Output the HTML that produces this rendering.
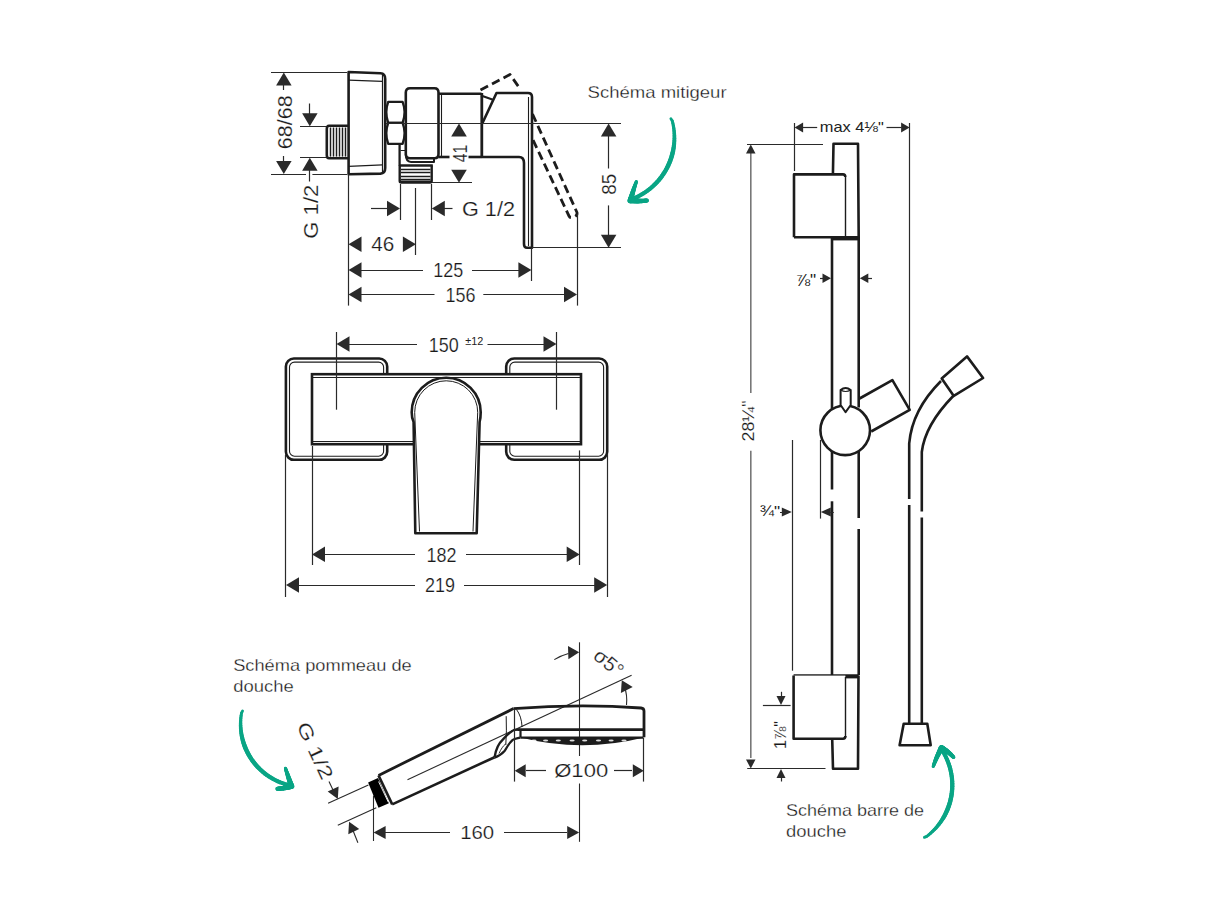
<!DOCTYPE html>
<html><head><meta charset="utf-8"><style>
html,body{margin:0;padding:0;background:#fff;}
svg{display:block;font-family:"Liberation Sans",sans-serif;}
</style></head><body>
<svg width="1218" height="914" viewBox="0 0 1218 914">
<rect width="1218" height="914" fill="#fff"/>
<line x1="271" y1="72.5" x2="347" y2="72.5" stroke="#2a2a2a" stroke-width="1.2" />
<line x1="271" y1="174.5" x2="306" y2="174.5" stroke="#2a2a2a" stroke-width="1.2" />
<line x1="312.4" y1="174.5" x2="347" y2="174.5" stroke="#2a2a2a" stroke-width="1.2" />
<polygon points="283.8,72.5 291.6,85.5 276.1,85.5" fill="#2a2a2a"/>
<line x1="283.5" y1="85" x2="283.5" y2="90" stroke="#2a2a2a" stroke-width="1.2" />
<g transform="translate(284.3 122.3) rotate(-90)"><text x="0" y="7.20" font-size="20" text-anchor="middle" fill="#1a1a1a" textLength="54" lengthAdjust="spacingAndGlyphs" stroke="#fff" stroke-width="0.2" paint-order="fill">68/68</text></g>
<line x1="283.5" y1="156" x2="283.5" y2="161" stroke="#2a2a2a" stroke-width="1.2" />
<polygon points="283.8,174.0 276.1,161.0 291.6,161.0" fill="#2a2a2a"/>
<line x1="300" y1="126.5" x2="347" y2="126.5" stroke="#2a2a2a" stroke-width="1.2" />
<line x1="300" y1="157.5" x2="347" y2="157.5" stroke="#2a2a2a" stroke-width="1.2" />
<line x1="309.5" y1="103.5" x2="309.5" y2="114" stroke="#2a2a2a" stroke-width="1.2" />
<polygon points="309.8,126.3 302.1,113.3 317.6,113.3" fill="#2a2a2a"/>
<polygon points="309.8,157.8 317.6,170.8 302.1,170.8" fill="#2a2a2a"/>
<line x1="309.5" y1="170" x2="309.5" y2="181.5" stroke="#2a2a2a" stroke-width="1.2" />
<g transform="translate(310.5 211.7) rotate(-90)"><text x="0" y="7.20" font-size="20" text-anchor="middle" fill="#1a1a1a" textLength="54" lengthAdjust="spacingAndGlyphs" stroke="#fff" stroke-width="0.2" paint-order="fill">G 1/2</text></g>
<path d="M348.6,72 L380.5,73.3 Q385.2,73.6 385.2,79 L385.2,168 Q385.2,173.4 380.5,173.6 L348.6,174.2 Z" stroke="#1c1c1c" stroke-width="2.6" fill="none" stroke-linejoin="round" />
<line x1="348.6" y1="80.1" x2="382.5" y2="81.4" stroke="#1c1c1c" stroke-width="1.2" />
<line x1="348.6" y1="166.4" x2="382.5" y2="164.8" stroke="#1c1c1c" stroke-width="1.2" />
<line x1="382.5" y1="74" x2="382.5" y2="172.5" stroke="#1c1c1c" stroke-width="1.2" />
<path d="M348,125.8 L329,125.8 Q326.8,125.8 326.8,129 L326.8,155 Q326.8,158.3 329,158.3 L348,158.3" stroke="#1c1c1c" stroke-width="2.6" fill="none" stroke-linejoin="round" />
<line x1="330.5" y1="127.5" x2="330.5" y2="156.6" stroke="#1c1c1c" stroke-width="1.5" />
<line x1="333.5" y1="127.5" x2="333.5" y2="156.6" stroke="#1c1c1c" stroke-width="1.5" />
<line x1="336.5" y1="127.5" x2="336.5" y2="156.6" stroke="#1c1c1c" stroke-width="1.5" />
<line x1="339.5" y1="127.5" x2="339.5" y2="156.6" stroke="#1c1c1c" stroke-width="1.5" />
<line x1="342.5" y1="127.5" x2="342.5" y2="156.6" stroke="#1c1c1c" stroke-width="1.5" />
<line x1="345.5" y1="127.5" x2="345.5" y2="156.6" stroke="#1c1c1c" stroke-width="1.5" />
<path d="M388.2,101.9 L402.6,101.9 Q406.6,112.3 402.6,122.8 L388.2,122.8 Q384.4,112.3 388.2,101.9 Z" stroke="#1c1c1c" stroke-width="2.3" fill="none" stroke-linejoin="round" />
<path d="M388.2,122.8 L402.6,122.8 Q406.6,133.3 402.6,143.8 L388.2,143.8 Q384.4,133.3 388.2,122.8 Z" stroke="#1c1c1c" stroke-width="2.3" fill="none" stroke-linejoin="round" />
<line x1="399.6" y1="144.5" x2="399.6" y2="166" stroke="#1c1c1c" stroke-width="2.3" />
<line x1="400.5" y1="150.5" x2="405" y2="150.5" stroke="#1c1c1c" stroke-width="1.0" />
<path d="M410,88.2 L434.5,88.2 Q438.5,88.2 438.5,92.5 L438.5,154 Q438.5,158.3 434.5,158.3 L410,158.3 Q405.8,158.3 405.8,154 L405.8,92.5 Q405.8,88.2 410,88.2 Z" stroke="#1c1c1c" stroke-width="2.6" fill="none" stroke-linejoin="round" />
<path d="M405.8,154 Q405.8,161.9 411,161.9 L434,161.9 L434,158.3" stroke="#1c1c1c" stroke-width="2.0" fill="none" stroke-linejoin="round" />
<path d="M399.7,165.5 L432.8,165.5" stroke="#1c1c1c" stroke-width="2.6" fill="none" stroke-linejoin="round" />
<path d="M399.7,165.5 L399.7,181 Q399.7,182.6 401.5,182.6 L430,182.6 Q431.7,182.6 431.7,181 L431.7,165.5" stroke="#1c1c1c" stroke-width="2.4" fill="none" stroke-linejoin="round" />
<line x1="399.7" y1="181.6" x2="431.7" y2="181.6" stroke="#1c1c1c" stroke-width="2.4" />
<line x1="401" y1="169.5" x2="430.5" y2="169.5" stroke="#1c1c1c" stroke-width="1.5" />
<line x1="401" y1="172.5" x2="430.5" y2="172.5" stroke="#1c1c1c" stroke-width="1.5" />
<line x1="401" y1="176.5" x2="430.5" y2="176.5" stroke="#1c1c1c" stroke-width="1.5" />
<line x1="401" y1="179.5" x2="430.5" y2="179.5" stroke="#1c1c1c" stroke-width="1.5" />
<path d="M438.5,93.7 L481.5,93.7" stroke="#1c1c1c" stroke-width="2.6" fill="none" stroke-linejoin="round" />
<path d="M438.5,157 L449.5,157" stroke="#1c1c1c" stroke-width="2.6" fill="none" stroke-linejoin="round" />
<path d="M468.5,157 L482,157" stroke="#1c1c1c" stroke-width="2.6" fill="none" stroke-linejoin="round" />
<line x1="441.5" y1="93.7" x2="441.5" y2="157" stroke="#1c1c1c" stroke-width="1.1" />
<line x1="481.8" y1="93" x2="481.8" y2="157" stroke="#1c1c1c" stroke-width="2.8" />
<path d="M482,157 L519,157 Q524,157 524,163 L524,244 Q524,247.8 527,247.8 L532,247.8 L532,97 Q532,93 528,93 L496.5,93 L482.5,123" stroke="#1c1c1c" stroke-width="2.6" fill="none" stroke-linejoin="round" />
<line x1="528.5" y1="97" x2="528.5" y2="246" stroke="#1c1c1c" stroke-width="1.1" />
<line x1="481" y1="95.5" x2="493" y2="99.8" stroke="#1c1c1c" stroke-width="2.0" />
<path d="M480.5,90 L510,74.5 L519.5,88" stroke="#1c1c1c" stroke-width="2.8" fill="none" stroke-linejoin="round" stroke-dasharray="8.5 4.5" stroke-linecap="butt"/>
<path d="M532.5,114 L577,212.5 Q577.5,215 575,216.5 L572,217.5 Q570,218 569,216 L533,140" stroke="#1c1c1c" stroke-width="2.8" fill="none" stroke-linejoin="round" stroke-dasharray="8.5 4.5" stroke-linecap="butt"/>
<line x1="386" y1="123.5" x2="621" y2="123.5" stroke="#2a2a2a" stroke-width="1.1" />
<polygon points="459.0,123.4 466.8,136.4 451.2,136.4" fill="#2a2a2a"/>
<g transform="translate(459.8 153.6) rotate(-90)"><text x="0" y="7.02" font-size="19.5" text-anchor="middle" fill="#1a1a1a" textLength="17.5" lengthAdjust="spacingAndGlyphs" stroke="#fff" stroke-width="0.2" paint-order="fill">41</text></g>
<polygon points="459.0,182.7 451.2,169.7 466.8,169.7" fill="#2a2a2a"/>
<line x1="432" y1="182.5" x2="472" y2="182.5" stroke="#2a2a2a" stroke-width="1.2" />
<line x1="400.5" y1="184" x2="400.5" y2="220" stroke="#2a2a2a" stroke-width="1.2" />
<line x1="431.5" y1="184" x2="431.5" y2="220" stroke="#2a2a2a" stroke-width="1.2" />
<line x1="371" y1="208.5" x2="388" y2="208.5" stroke="#2a2a2a" stroke-width="1.2" />
<polygon points="400.0,208.4 387.0,216.2 387.0,200.7" fill="#2a2a2a"/>
<polygon points="431.8,208.4 444.8,200.7 444.8,216.2" fill="#2a2a2a"/>
<line x1="444" y1="208.5" x2="452.5" y2="208.5" stroke="#2a2a2a" stroke-width="1.2" />
<g transform="translate(488.5 208.4) rotate(0)"><text x="0" y="7.20" font-size="20" text-anchor="middle" fill="#1a1a1a" textLength="53" lengthAdjust="spacingAndGlyphs" stroke="#fff" stroke-width="0.2" paint-order="fill">G 1/2</text></g>
<line x1="348.5" y1="174" x2="348.5" y2="305.6" stroke="#2a2a2a" stroke-width="1.2" />
<line x1="415.5" y1="188" x2="415.5" y2="255" stroke="#2a2a2a" stroke-width="1.2" />
<line x1="531.5" y1="248" x2="531.5" y2="281" stroke="#2a2a2a" stroke-width="1.2" />
<line x1="577.5" y1="214" x2="577.5" y2="305.6" stroke="#2a2a2a" stroke-width="1.2" />
<polygon points="348.5,244.2 361.5,236.4 361.5,251.9" fill="#2a2a2a"/>
<polygon points="415.9,244.2 402.9,251.9 402.9,236.4" fill="#2a2a2a"/>
<g transform="translate(382.8 244.2) rotate(0)"><text x="0" y="7.20" font-size="20" text-anchor="middle" fill="#1a1a1a" textLength="23" lengthAdjust="spacingAndGlyphs" stroke="#fff" stroke-width="0.2" paint-order="fill">46</text></g>
<polygon points="348.5,270.0 361.5,262.2 361.5,277.8" fill="#2a2a2a"/>
<line x1="360" y1="270.5" x2="423" y2="270.5" stroke="#2a2a2a" stroke-width="1.2" />
<g transform="translate(448.2 270) rotate(0)"><text x="0" y="7.20" font-size="20" text-anchor="middle" fill="#1a1a1a" textLength="30" lengthAdjust="spacingAndGlyphs" stroke="#fff" stroke-width="0.2" paint-order="fill">125</text></g>
<line x1="472" y1="270.5" x2="520" y2="270.5" stroke="#2a2a2a" stroke-width="1.2" />
<polygon points="531.4,270.0 518.4,277.8 518.4,262.2" fill="#2a2a2a"/>
<polygon points="348.5,294.5 361.5,286.8 361.5,302.2" fill="#2a2a2a"/>
<line x1="360" y1="294.5" x2="434.5" y2="294.5" stroke="#2a2a2a" stroke-width="1.2" />
<g transform="translate(460.4 294.5) rotate(0)"><text x="0" y="7.20" font-size="20" text-anchor="middle" fill="#1a1a1a" textLength="30" lengthAdjust="spacingAndGlyphs" stroke="#fff" stroke-width="0.2" paint-order="fill">156</text></g>
<line x1="483.3" y1="294.5" x2="565" y2="294.5" stroke="#2a2a2a" stroke-width="1.2" />
<polygon points="577.0,294.5 564.0,302.2 564.0,286.8" fill="#2a2a2a"/>
<line x1="532" y1="247.5" x2="621" y2="247.5" stroke="#2a2a2a" stroke-width="1.2" />
<polygon points="608.6,123.4 616.4,136.4 600.9,136.4" fill="#2a2a2a"/>
<line x1="608.5" y1="136" x2="608.5" y2="168.5" stroke="#2a2a2a" stroke-width="1.2" />
<g transform="translate(608.8 184.2) rotate(-90)"><text x="0" y="7.20" font-size="20" text-anchor="middle" fill="#1a1a1a" textLength="21" lengthAdjust="spacingAndGlyphs" stroke="#fff" stroke-width="0.2" paint-order="fill">85</text></g>
<line x1="608.5" y1="205.4" x2="608.5" y2="235" stroke="#2a2a2a" stroke-width="1.2" />
<polygon points="608.6,247.8 600.9,234.8 616.4,234.8" fill="#2a2a2a"/>
<rect x="285.9" y="358.5" width="101.30000000000001" height="101.30000000000001" rx="8" ry="8" stroke="#1c1c1c" stroke-width="2.6" fill="none"/>
<rect x="289.5" y="362.1" width="94.09999999999997" height="94.09999999999997" rx="5" ry="5" stroke="#1c1c1c" stroke-width="1.1" fill="none"/>
<rect x="506.2" y="358.5" width="101.00000000000006" height="101.30000000000001" rx="8" ry="8" stroke="#1c1c1c" stroke-width="2.6" fill="none"/>
<rect x="509.8" y="362.1" width="93.80000000000001" height="94.09999999999997" rx="5" ry="5" stroke="#1c1c1c" stroke-width="1.1" fill="none"/>
<rect x="312" y="374.2" width="269" height="70.0" rx="0" ry="0" stroke="#1c1c1c" stroke-width="2.6" fill="#fff"/>
<line x1="312" y1="377.5" x2="581" y2="377.5" stroke="#1c1c1c" stroke-width="1.1" />
<line x1="312" y1="441.5" x2="581" y2="441.5" stroke="#1c1c1c" stroke-width="1.1" />
<path d="M415.3,533.3 L413.6,422 Q411.7,418 411.7,412.3 A34.5,34.5 0 0 1 480.7,412.3 Q480.7,418 479.6,422 L476.7,533.3 Z" stroke="#1c1c1c" stroke-width="2.6" fill="#fff" stroke-linejoin="round" />
<path d="M419.5,531.5 L414.7,412.3 A31.5,31.5 0 0 1 477.7,412.3 L473,531.5" stroke="#1c1c1c" stroke-width="1.0" fill="none" stroke-linejoin="round" />
<line x1="336.5" y1="332" x2="336.5" y2="409.7" stroke="#2a2a2a" stroke-width="1.2" />
<line x1="556.5" y1="332" x2="556.5" y2="409.7" stroke="#2a2a2a" stroke-width="1.2" />
<polygon points="336.5,344.0 349.5,336.2 349.5,351.8" fill="#2a2a2a"/>
<line x1="349" y1="344.5" x2="417" y2="344.5" stroke="#2a2a2a" stroke-width="1.2" />
<g transform="translate(443.8 344.5) rotate(0)"><text x="0" y="7.20" font-size="20" text-anchor="middle" fill="#1a1a1a" textLength="30" lengthAdjust="spacingAndGlyphs" stroke="#fff" stroke-width="0.2" paint-order="fill">150</text></g>
<text x="474.2" y="344.5" font-size="11.5" text-anchor="middle" fill="#222" textLength="18" lengthAdjust="spacingAndGlyphs" >±12</text>
<line x1="487.5" y1="344.5" x2="544" y2="344.5" stroke="#2a2a2a" stroke-width="1.2" />
<polygon points="556.5,344.0 543.5,351.8 543.5,336.2" fill="#2a2a2a"/>
<line x1="312.5" y1="446" x2="312.5" y2="565" stroke="#2a2a2a" stroke-width="1.2" />
<line x1="579.5" y1="450.4" x2="579.5" y2="565" stroke="#2a2a2a" stroke-width="1.2" />
<polygon points="312.0,554.4 325.0,546.6 325.0,562.1" fill="#2a2a2a"/>
<line x1="324" y1="554.5" x2="415" y2="554.5" stroke="#2a2a2a" stroke-width="1.2" />
<g transform="translate(441.6 554.4) rotate(0)"><text x="0" y="7.20" font-size="20" text-anchor="middle" fill="#1a1a1a" textLength="30" lengthAdjust="spacingAndGlyphs" stroke="#fff" stroke-width="0.2" paint-order="fill">182</text></g>
<line x1="466" y1="554.5" x2="567" y2="554.5" stroke="#2a2a2a" stroke-width="1.2" />
<polygon points="579.7,554.4 566.7,562.1 566.7,546.6" fill="#2a2a2a"/>
<line x1="285.5" y1="455" x2="285.5" y2="597" stroke="#2a2a2a" stroke-width="1.2" />
<line x1="607.5" y1="454" x2="607.5" y2="597" stroke="#2a2a2a" stroke-width="1.2" />
<polygon points="286.0,585.0 299.0,577.2 299.0,592.8" fill="#2a2a2a"/>
<line x1="298" y1="585.5" x2="415" y2="585.5" stroke="#2a2a2a" stroke-width="1.2" />
<g transform="translate(440 585) rotate(0)"><text x="0" y="7.20" font-size="20" text-anchor="middle" fill="#1a1a1a" textLength="30" lengthAdjust="spacingAndGlyphs" stroke="#fff" stroke-width="0.2" paint-order="fill">219</text></g>
<line x1="464" y1="585.5" x2="595" y2="585.5" stroke="#2a2a2a" stroke-width="1.2" />
<polygon points="607.2,585.0 594.2,592.8 594.2,577.2" fill="#2a2a2a"/>
<line x1="407.5" y1="779.7" x2="631.6" y2="675.3" stroke="#2a2a2a" stroke-width="1.1" />
<line x1="579.5" y1="642.3" x2="579.5" y2="756" stroke="#2a2a2a" stroke-width="1.1" />
<line x1="579.5" y1="783.5" x2="579.5" y2="841.8" stroke="#2a2a2a" stroke-width="1.1" />
<path d="M378.5,775.4 L513.5,708.6" stroke="#1c1c1c" stroke-width="2.8" fill="none" stroke-linejoin="round" />
<path d="M392.2,804.4 L494.6,757.2" stroke="#1c1c1c" stroke-width="2.6" fill="none" stroke-linejoin="round" />
<path d="M494.6,757.2 C495.5,751 498,744 503,739.4 C507,735 511,731 514.4,729.9 L520,729.6" stroke="#1c1c1c" stroke-width="2.4" fill="none" stroke-linejoin="round" />
<path d="M494.6,757.6 C498,756.5 502,754 504.8,750.8 C507,747 509,743 512.7,739.8 C514.5,738.6 516,738.5 520,737.6" stroke="#1c1c1c" stroke-width="2.2" fill="none" stroke-linejoin="round" />
<path d="M499,753.5 C501,749 503,746 505.5,744" stroke="#1c1c1c" stroke-width="0.9" fill="none" stroke-linejoin="round" />
<path d="M506.2,716.2 Q506.8,731 505.8,745" stroke="#1c1c1c" stroke-width="1.0" fill="none" stroke-linejoin="round" />
<line x1="378.5" y1="775.4" x2="392.2" y2="804.4" stroke="#1c1c1c" stroke-width="2.6" />
<polygon points="368.1,782.5 378,778.1 388.9,803.3 378.5,807.7" fill="#000"/>
<line x1="378.6" y1="781.6" x2="388.3" y2="802.2" stroke="#fff" stroke-width="0.9" />
<path d="M513.5,708.6 Q580,703.5 641,708 Q644,708.3 644,711 L644,737.3" stroke="#1c1c1c" stroke-width="2.8" fill="none" stroke-linejoin="round" />
<line x1="517.7" y1="729.6" x2="644" y2="729.6" stroke="#1c1c1c" stroke-width="2.6" />
<line x1="520.5" y1="729.6" x2="520.5" y2="737.5" stroke="#1c1c1c" stroke-width="2.2" />
<path d="M520.3,737.6 L643,737.6" stroke="#1c1c1c" stroke-width="2.2" fill="none" stroke-linejoin="round" />
<path d="M520.5,737.5 Q582,753 644,737.5 Z" fill="#1c1c1c"/>
<ellipse cx="534" cy="740.4" rx="2.6" ry="1.0" fill="#fff" opacity="0.85"/>
<ellipse cx="545.6" cy="740.4" rx="2.6" ry="1.0" fill="#fff" opacity="0.85"/>
<ellipse cx="558.3" cy="740.4" rx="2.6" ry="1.0" fill="#fff" opacity="0.85"/>
<ellipse cx="572.1" cy="740.4" rx="2.6" ry="1.0" fill="#fff" opacity="0.85"/>
<ellipse cx="584.7" cy="740.4" rx="2.6" ry="1.0" fill="#fff" opacity="0.85"/>
<ellipse cx="598.5" cy="740.4" rx="2.6" ry="1.0" fill="#fff" opacity="0.85"/>
<ellipse cx="611.1" cy="740.4" rx="2.6" ry="1.0" fill="#fff" opacity="0.85"/>
<ellipse cx="624" cy="740.4" rx="2.6" ry="1.0" fill="#fff" opacity="0.85"/>
<line x1="514.5" y1="709" x2="514.5" y2="781.6" stroke="#2a2a2a" stroke-width="1.2" />
<line x1="643.5" y1="737.5" x2="643.5" y2="781.6" stroke="#2a2a2a" stroke-width="1.2" />
<path d="M516.5,709.5 Q521.5,716 522.1,727" stroke="#1c1c1c" stroke-width="1.0" fill="none" stroke-linejoin="round" />
<polygon points="514.7,770.7 525.7,764.2 525.7,777.2" fill="#2a2a2a"/>
<line x1="526" y1="770.5" x2="546" y2="770.5" stroke="#2a2a2a" stroke-width="1.2" />
<g transform="translate(581.2 770.5) rotate(0)"><text x="0" y="6.66" font-size="18.5" text-anchor="middle" fill="#1a1a1a" textLength="54" lengthAdjust="spacingAndGlyphs" stroke="#fff" stroke-width="0.2" paint-order="fill">Ø100</text></g>
<line x1="614" y1="770.5" x2="632" y2="770.5" stroke="#2a2a2a" stroke-width="1.2" />
<polygon points="643.8,770.7 632.8,777.2 632.8,764.2" fill="#2a2a2a"/>
<line x1="373.5" y1="795.6" x2="373.5" y2="841" stroke="#2a2a2a" stroke-width="1.1" />
<polygon points="373.6,832.4 385.6,825.9 385.6,838.9" fill="#2a2a2a"/>
<line x1="385" y1="832.5" x2="450" y2="832.5" stroke="#2a2a2a" stroke-width="1.2" />
<g transform="translate(477.2 832.3) rotate(0)"><text x="0" y="6.48" font-size="18" text-anchor="middle" fill="#1a1a1a" textLength="34" lengthAdjust="spacingAndGlyphs" stroke="#fff" stroke-width="0.2" paint-order="fill">160</text></g>
<line x1="504" y1="832.5" x2="567" y2="832.5" stroke="#2a2a2a" stroke-width="1.2" />
<polygon points="579.2,832.4 567.2,838.9 567.2,825.9" fill="#2a2a2a"/>
<path d="M554.3,659.6 Q561,655.5 568.5,653.5" stroke="#2a2a2a" stroke-width="1.1" fill="none" stroke-linejoin="round" />
<polygon points="579.2,652.2 568.4,659.2 568.0,645.9" fill="#2a2a2a"/>
<path d="M626.5,705 Q627.5,695 624.5,687" stroke="#2a2a2a" stroke-width="1.1" fill="none" stroke-linejoin="round" />
<polygon points="621.8,680.2 632.7,687.0 620.9,693.0" fill="#2a2a2a"/>
<g transform="translate(609 662.5) rotate(40)"><text x="0" y="7.20" font-size="20" text-anchor="middle" fill="#1a1a1a" textLength="32" lengthAdjust="spacingAndGlyphs" stroke="#fff" stroke-width="0.2" paint-order="fill">σ5°</text></g>
<line x1="328.1" y1="803.3" x2="368.4" y2="784.9" stroke="#2a2a2a" stroke-width="1.1" />
<line x1="337.8" y1="825.2" x2="376.3" y2="807.7" stroke="#2a2a2a" stroke-width="1.1" />
<line x1="329" y1="781.4" x2="333" y2="790" stroke="#2a2a2a" stroke-width="1.1" />
<polygon points="337.8,798.9 327.7,791.5 338.6,786.4" fill="#2a2a2a"/>
<polygon points="349.1,821.7 359.2,829.1 348.3,834.2" fill="#2a2a2a"/>
<line x1="352" y1="828" x2="357.9" y2="842.7" stroke="#2a2a2a" stroke-width="1.1" />
<g transform="translate(315.3 750.5) rotate(65)"><text x="0" y="6.84" font-size="19" text-anchor="middle" fill="#1a1a1a" textLength="61" lengthAdjust="spacingAndGlyphs" stroke="#fff" stroke-width="0.2" paint-order="fill">G 1/2</text></g>
<line x1="794.5" y1="123" x2="794.5" y2="171" stroke="#2a2a2a" stroke-width="1.2" />
<line x1="909.5" y1="123" x2="909.5" y2="409.5" stroke="#2a2a2a" stroke-width="1.2" />
<polygon points="794.6,127.6 803.1,122.6 803.1,132.6" fill="#2a2a2a"/>
<line x1="802" y1="127.5" x2="817.2" y2="127.5" stroke="#2a2a2a" stroke-width="1.2" />
<text x="851.8" y="131.6" font-size="14.5" text-anchor="middle" fill="#222" textLength="64" lengthAdjust="spacingAndGlyphs" >max 4⅛"</text>
<line x1="886.5" y1="127.5" x2="901.5" y2="127.5" stroke="#2a2a2a" stroke-width="1.2" />
<polygon points="909.6,127.6 901.1,132.6 901.1,122.6" fill="#2a2a2a"/>
<path d="M831.7,238 L833.5,143.8 L858,143.8 L858.7,238" stroke="#1c1c1c" stroke-width="2.6" fill="none" stroke-linejoin="round" />
<rect x="794" y="174.4" width="51.3" height="62.8" fill="#fff"/>
<path d="M794,237.2 L794,174.4 L843,174.4 Q845.3,174.4 845.3,177" stroke="#1c1c1c" stroke-width="2.6" fill="none" stroke-linejoin="round" />
<line x1="845.5" y1="177" x2="845.5" y2="237.2" stroke="#1c1c1c" stroke-width="1.4" />
<path d="M794,237.2 L858.7,237.2" stroke="#1c1c1c" stroke-width="2.6" fill="none" stroke-linejoin="round" />
<line x1="832" y1="238.8" x2="858.5" y2="238.8" stroke="#1c1c1c" stroke-width="3.2" />
<line x1="832" y1="238" x2="832" y2="489.5" stroke="#1c1c1c" stroke-width="2.6" />
<line x1="832" y1="501.3" x2="832" y2="675" stroke="#1c1c1c" stroke-width="2.6" />
<line x1="858.7" y1="238" x2="858.7" y2="407.5" stroke="#1c1c1c" stroke-width="2.6" />
<line x1="858.7" y1="449.5" x2="858.7" y2="518" stroke="#1c1c1c" stroke-width="2.6" />
<line x1="858.7" y1="529" x2="858.7" y2="675" stroke="#1c1c1c" stroke-width="2.6" />
<text x="806" y="285.8" font-size="17" text-anchor="middle" fill="#222" textLength="20.5" lengthAdjust="spacingAndGlyphs" >⅞"</text>
<polygon points="831.0,278.3 822.5,283.1 822.5,273.6" fill="#2a2a2a"/>
<line x1="820" y1="278.5" x2="823" y2="278.5" stroke="#2a2a2a" stroke-width="1.2" />
<polygon points="859.8,278.3 868.3,273.6 868.3,283.1" fill="#2a2a2a"/>
<line x1="867" y1="278.5" x2="872" y2="278.5" stroke="#2a2a2a" stroke-width="1.2" />
<circle cx="845.2" cy="430.3" r="24.8" stroke="#1c1c1c" stroke-width="2.6" fill="#fff"/>
<path d="M840.6,390 Q845.6,386 850.7,390 L850.7,405 L845.6,412.2 L840.6,405 Z" stroke="#1c1c1c" stroke-width="2.0" fill="#fff" stroke-linejoin="round" />
<path d="M840.6,390 Q845.6,393 850.7,390" stroke="#1c1c1c" stroke-width="1.2" fill="none" stroke-linejoin="round" />
<path d="M859.6,398.5 L892.4,380.2 L909.7,409.8 L871.2,431.5" stroke="#1c1c1c" stroke-width="2.6" fill="none" stroke-linejoin="round" />
<path d="M941.7,378.5 L967,356.4 L983.1,378 L953.8,395.9 Z" stroke="#1c1c1c" stroke-width="2.6" fill="none" stroke-linejoin="round" />
<path d="M941,381 Q912,410 909.2,443.5 L909.2,499" stroke="#1c1c1c" stroke-width="2.6" fill="none" stroke-linejoin="round" />
<path d="M953.2,396 Q925,425 921.8,452 L921.8,511.4" stroke="#1c1c1c" stroke-width="2.6" fill="none" stroke-linejoin="round" />
<line x1="909.2" y1="505" x2="909.2" y2="723.8" stroke="#1c1c1c" stroke-width="2.6" />
<line x1="921.8" y1="517.5" x2="921.8" y2="723.8" stroke="#1c1c1c" stroke-width="2.6" />
<path d="M903.7,723.8 L927.3,723.8 L930.7,745.2 L899.6,745.2 Z" stroke="#1c1c1c" stroke-width="2.6" fill="none" stroke-linejoin="round" />
<line x1="792.5" y1="440" x2="792.5" y2="670.7" stroke="#2a2a2a" stroke-width="1.2" />
<line x1="820.5" y1="440" x2="820.5" y2="518.6" stroke="#2a2a2a" stroke-width="1.2" />
<text x="770" y="515.5" font-size="15" text-anchor="middle" fill="#222" textLength="20.5" lengthAdjust="spacingAndGlyphs" >¾"</text>
<polygon points="791.8,512.0 781.8,516.5 781.8,507.5" fill="#2a2a2a"/>
<line x1="780" y1="512.5" x2="782" y2="512.5" stroke="#2a2a2a" stroke-width="1.2" />
<polygon points="820.8,512.0 830.8,507.5 830.8,516.5" fill="#2a2a2a"/>
<line x1="830" y1="512.5" x2="834" y2="512.5" stroke="#2a2a2a" stroke-width="0.8" />
<path d="M793.6,675.6 L858.5,675.6" stroke="#1c1c1c" stroke-width="2.6" fill="none" stroke-linejoin="round" />
<line x1="832" y1="676.8" x2="858.5" y2="676.8" stroke="#1c1c1c" stroke-width="3.2" />
<path d="M832.2,738.7 L833,768.8 L858,768.8 L858.5,675.6" stroke="#1c1c1c" stroke-width="2.6" fill="none" stroke-linejoin="round" />
<rect x="793.6" y="675.6" width="51.8" height="63.1" fill="#fff"/>
<path d="M793.6,675.6 L793.6,738.7 L843,738.7 Q845.4,738.7 845.4,736" stroke="#1c1c1c" stroke-width="2.6" fill="none" stroke-linejoin="round" />
<line x1="845.5" y1="677" x2="845.5" y2="737" stroke="#1c1c1c" stroke-width="1.4" />
<line x1="750.8" y1="150" x2="750.8" y2="393" stroke="#777" stroke-width="1.6"/>
<line x1="750.8" y1="450.7" x2="750.8" y2="758" stroke="#777" stroke-width="1.6"/>
<polygon points="750.8,144.4 755.5,153.4 746.0,153.4" fill="#2a2a2a"/>
<line x1="747" y1="144.5" x2="823" y2="144.5" stroke="#2a2a2a" stroke-width="1.2" />
<g transform="translate(748.7 421) rotate(-90)"><text x="0" y="5.76" font-size="16" text-anchor="middle" fill="#1a1a1a" textLength="41" lengthAdjust="spacingAndGlyphs" stroke="#fff" stroke-width="0.12" paint-order="fill">28¼"</text></g>
<polygon points="750.8,768.5 746.0,759.5 755.5,759.5" fill="#2a2a2a"/>
<line x1="747.2" y1="768.5" x2="825.5" y2="768.5" stroke="#2a2a2a" stroke-width="1.2" />
<line x1="792.5" y1="671" x2="792.5" y2="671" stroke="#2a2a2a" stroke-width="1.2" />
<line x1="762.9" y1="705.5" x2="790.6" y2="705.5" stroke="#2a2a2a" stroke-width="1.2" />
<line x1="781.5" y1="691.8" x2="781.5" y2="697" stroke="#2a2a2a" stroke-width="1.2" />
<polygon points="781.0,705.0 776.5,696.0 785.5,696.0" fill="#2a2a2a"/>
<polygon points="781.0,769.0 785.5,778.0 776.5,778.0" fill="#2a2a2a"/>
<line x1="781.5" y1="777" x2="781.5" y2="781.5" stroke="#2a2a2a" stroke-width="1.2" />
<g transform="translate(780.6 735) rotate(-90)"><text x="0" y="5.76" font-size="16" text-anchor="middle" fill="#1a1a1a" textLength="28" lengthAdjust="spacingAndGlyphs" stroke="#fff" stroke-width="0.12" paint-order="fill">1⅞"</text></g>
<text x="587.6" y="97.9" font-size="16.5" fill="#111" textLength="139" lengthAdjust="spacingAndGlyphs" stroke="#fff" stroke-width="0.3" paint-order="fill">Schéma mitigeur</text>
<text x="233.2" y="671.1" font-size="16.5" fill="#111" textLength="178.5" lengthAdjust="spacingAndGlyphs" stroke="#fff" stroke-width="0.3" paint-order="fill">Schéma pommeau de</text>
<text x="233.2" y="692.1" font-size="16.5" fill="#111" textLength="60.5" lengthAdjust="spacingAndGlyphs" stroke="#fff" stroke-width="0.3" paint-order="fill">douche</text>
<text x="786" y="815.7" font-size="16.5" fill="#111" textLength="138" lengthAdjust="spacingAndGlyphs" stroke="#fff" stroke-width="0.3" paint-order="fill">Schéma barre de</text>
<text x="786" y="837" font-size="16.5" fill="#111" textLength="60.5" lengthAdjust="spacingAndGlyphs" stroke="#fff" stroke-width="0.3" paint-order="fill">douche</text>
<line x1="670.90" y1="118.70" x2="672.29" y2="120.91" stroke="#09a585" stroke-width="2.80" stroke-linecap="round"/>
<line x1="672.29" y1="120.91" x2="672.88" y2="123.36" stroke="#09a585" stroke-width="2.92" stroke-linecap="round"/>
<line x1="672.88" y1="123.36" x2="673.38" y2="125.84" stroke="#09a585" stroke-width="3.05" stroke-linecap="round"/>
<line x1="673.38" y1="125.84" x2="673.78" y2="128.33" stroke="#09a585" stroke-width="3.17" stroke-linecap="round"/>
<line x1="673.78" y1="128.33" x2="674.08" y2="130.83" stroke="#09a585" stroke-width="3.30" stroke-linecap="round"/>
<line x1="674.08" y1="130.83" x2="674.29" y2="133.34" stroke="#09a585" stroke-width="3.42" stroke-linecap="round"/>
<line x1="674.29" y1="133.34" x2="674.40" y2="135.86" stroke="#09a585" stroke-width="3.55" stroke-linecap="round"/>
<line x1="674.40" y1="135.86" x2="674.42" y2="138.39" stroke="#09a585" stroke-width="3.67" stroke-linecap="round"/>
<line x1="674.42" y1="138.39" x2="674.34" y2="140.91" stroke="#09a585" stroke-width="3.80" stroke-linecap="round"/>
<line x1="674.34" y1="140.91" x2="674.16" y2="143.42" stroke="#09a585" stroke-width="3.92" stroke-linecap="round"/>
<line x1="674.16" y1="143.42" x2="673.89" y2="145.93" stroke="#09a585" stroke-width="4.05" stroke-linecap="round"/>
<line x1="673.89" y1="145.93" x2="673.52" y2="148.42" stroke="#09a585" stroke-width="4.17" stroke-linecap="round"/>
<line x1="673.52" y1="148.42" x2="673.05" y2="150.90" stroke="#09a585" stroke-width="4.29" stroke-linecap="round"/>
<line x1="673.05" y1="150.90" x2="672.49" y2="153.36" stroke="#09a585" stroke-width="4.42" stroke-linecap="round"/>
<line x1="672.49" y1="153.36" x2="671.84" y2="155.80" stroke="#09a585" stroke-width="4.49" stroke-linecap="round"/>
<line x1="671.84" y1="155.80" x2="671.09" y2="158.21" stroke="#09a585" stroke-width="4.47" stroke-linecap="round"/>
<line x1="671.09" y1="158.21" x2="670.26" y2="160.58" stroke="#09a585" stroke-width="4.45" stroke-linecap="round"/>
<line x1="670.26" y1="160.58" x2="669.33" y2="162.93" stroke="#09a585" stroke-width="4.42" stroke-linecap="round"/>
<line x1="669.33" y1="162.93" x2="668.31" y2="165.24" stroke="#09a585" stroke-width="4.40" stroke-linecap="round"/>
<line x1="668.31" y1="165.24" x2="667.21" y2="167.50" stroke="#09a585" stroke-width="4.38" stroke-linecap="round"/>
<line x1="667.21" y1="167.50" x2="666.02" y2="169.73" stroke="#09a585" stroke-width="4.36" stroke-linecap="round"/>
<line x1="666.02" y1="169.73" x2="664.74" y2="171.90" stroke="#09a585" stroke-width="4.33" stroke-linecap="round"/>
<line x1="664.74" y1="171.90" x2="663.38" y2="174.03" stroke="#09a585" stroke-width="4.31" stroke-linecap="round"/>
<line x1="663.38" y1="174.03" x2="661.95" y2="176.10" stroke="#09a585" stroke-width="4.29" stroke-linecap="round"/>
<line x1="661.95" y1="176.10" x2="660.43" y2="178.12" stroke="#09a585" stroke-width="4.26" stroke-linecap="round"/>
<line x1="660.43" y1="178.12" x2="658.84" y2="180.07" stroke="#09a585" stroke-width="4.24" stroke-linecap="round"/>
<line x1="658.84" y1="180.07" x2="657.17" y2="181.97" stroke="#09a585" stroke-width="4.22" stroke-linecap="round"/>
<line x1="657.17" y1="181.97" x2="655.44" y2="183.79" stroke="#09a585" stroke-width="4.20" stroke-linecap="round"/>
<line x1="655.44" y1="183.79" x2="653.63" y2="185.55" stroke="#09a585" stroke-width="4.17" stroke-linecap="round"/>
<line x1="653.63" y1="185.55" x2="651.76" y2="187.24" stroke="#09a585" stroke-width="4.15" stroke-linecap="round"/>
<line x1="651.76" y1="187.24" x2="649.82" y2="188.86" stroke="#09a585" stroke-width="4.13" stroke-linecap="round"/>
<line x1="649.82" y1="188.86" x2="647.83" y2="190.40" stroke="#09a585" stroke-width="4.10" stroke-linecap="round"/>
<line x1="647.83" y1="190.40" x2="645.77" y2="191.87" stroke="#09a585" stroke-width="4.08" stroke-linecap="round"/>
<line x1="645.77" y1="191.87" x2="643.67" y2="193.25" stroke="#09a585" stroke-width="4.05" stroke-linecap="round"/>
<line x1="643.67" y1="193.25" x2="641.51" y2="194.56" stroke="#09a585" stroke-width="4.03" stroke-linecap="round"/>
<line x1="641.51" y1="194.56" x2="639.30" y2="195.78" stroke="#09a585" stroke-width="4.00" stroke-linecap="round"/>
<line x1="639.30" y1="195.78" x2="637.05" y2="196.91" stroke="#09a585" stroke-width="3.98" stroke-linecap="round"/>
<line x1="637.05" y1="196.91" x2="634.75" y2="197.96" stroke="#09a585" stroke-width="3.95" stroke-linecap="round"/>
<line x1="634.75" y1="197.96" x2="632.42" y2="198.91" stroke="#09a585" stroke-width="3.93" stroke-linecap="round"/>
<line x1="632.42" y1="198.91" x2="630.30" y2="200.50" stroke="#09a585" stroke-width="3.90" stroke-linecap="round"/>
<line x1="630.30" y1="200.50" x2="630.46" y2="199.99" stroke="#09a585" stroke-width="5.50" stroke-linecap="round"/>
<line x1="630.46" y1="199.99" x2="630.65" y2="199.33" stroke="#09a585" stroke-width="5.39" stroke-linecap="round"/>
<line x1="630.65" y1="199.33" x2="630.88" y2="198.57" stroke="#09a585" stroke-width="5.28" stroke-linecap="round"/>
<line x1="630.88" y1="198.57" x2="631.14" y2="197.70" stroke="#09a585" stroke-width="5.17" stroke-linecap="round"/>
<line x1="631.14" y1="197.70" x2="631.42" y2="196.77" stroke="#09a585" stroke-width="5.07" stroke-linecap="round"/>
<line x1="631.42" y1="196.77" x2="631.72" y2="195.78" stroke="#09a585" stroke-width="4.96" stroke-linecap="round"/>
<line x1="631.72" y1="195.78" x2="632.03" y2="194.76" stroke="#09a585" stroke-width="4.85" stroke-linecap="round"/>
<line x1="632.03" y1="194.76" x2="632.34" y2="193.74" stroke="#09a585" stroke-width="4.74" stroke-linecap="round"/>
<line x1="632.34" y1="193.74" x2="632.65" y2="192.73" stroke="#09a585" stroke-width="4.63" stroke-linecap="round"/>
<line x1="632.65" y1="192.73" x2="632.95" y2="191.76" stroke="#09a585" stroke-width="4.52" stroke-linecap="round"/>
<line x1="632.95" y1="191.76" x2="633.23" y2="190.84" stroke="#09a585" stroke-width="4.41" stroke-linecap="round"/>
<line x1="633.23" y1="190.84" x2="633.50" y2="190.00" stroke="#09a585" stroke-width="4.30" stroke-linecap="round"/>
<line x1="633.50" y1="190.00" x2="633.76" y2="189.19" stroke="#09a585" stroke-width="4.20" stroke-linecap="round"/>
<line x1="633.76" y1="189.19" x2="634.03" y2="188.37" stroke="#09a585" stroke-width="4.09" stroke-linecap="round"/>
<line x1="634.03" y1="188.37" x2="634.31" y2="187.54" stroke="#09a585" stroke-width="3.98" stroke-linecap="round"/>
<line x1="634.31" y1="187.54" x2="634.60" y2="186.70" stroke="#09a585" stroke-width="3.87" stroke-linecap="round"/>
<line x1="634.60" y1="186.70" x2="634.88" y2="185.89" stroke="#09a585" stroke-width="3.76" stroke-linecap="round"/>
<line x1="634.88" y1="185.89" x2="635.15" y2="185.09" stroke="#09a585" stroke-width="3.65" stroke-linecap="round"/>
<line x1="635.15" y1="185.09" x2="635.41" y2="184.34" stroke="#09a585" stroke-width="3.54" stroke-linecap="round"/>
<line x1="635.41" y1="184.34" x2="635.66" y2="183.63" stroke="#09a585" stroke-width="3.43" stroke-linecap="round"/>
<line x1="635.66" y1="183.63" x2="635.89" y2="182.98" stroke="#09a585" stroke-width="3.33" stroke-linecap="round"/>
<line x1="635.89" y1="182.98" x2="636.09" y2="182.40" stroke="#09a585" stroke-width="3.22" stroke-linecap="round"/>
<line x1="636.09" y1="182.40" x2="636.26" y2="181.90" stroke="#09a585" stroke-width="3.11" stroke-linecap="round"/>
<line x1="636.26" y1="181.90" x2="636.40" y2="181.50" stroke="#09a585" stroke-width="3.00" stroke-linecap="round"/>
<line x1="630.30" y1="200.50" x2="630.72" y2="200.53" stroke="#09a585" stroke-width="5.50" stroke-linecap="round"/>
<line x1="630.72" y1="200.53" x2="631.25" y2="200.56" stroke="#09a585" stroke-width="5.43" stroke-linecap="round"/>
<line x1="631.25" y1="200.56" x2="631.88" y2="200.61" stroke="#09a585" stroke-width="5.37" stroke-linecap="round"/>
<line x1="631.88" y1="200.61" x2="632.58" y2="200.66" stroke="#09a585" stroke-width="5.30" stroke-linecap="round"/>
<line x1="632.58" y1="200.66" x2="633.34" y2="200.72" stroke="#09a585" stroke-width="5.24" stroke-linecap="round"/>
<line x1="633.34" y1="200.72" x2="634.15" y2="200.78" stroke="#09a585" stroke-width="5.17" stroke-linecap="round"/>
<line x1="634.15" y1="200.78" x2="634.98" y2="200.83" stroke="#09a585" stroke-width="5.11" stroke-linecap="round"/>
<line x1="634.98" y1="200.83" x2="635.83" y2="200.88" stroke="#09a585" stroke-width="5.04" stroke-linecap="round"/>
<line x1="635.83" y1="200.88" x2="636.67" y2="200.93" stroke="#09a585" stroke-width="4.98" stroke-linecap="round"/>
<line x1="636.67" y1="200.93" x2="637.49" y2="200.96" stroke="#09a585" stroke-width="4.91" stroke-linecap="round"/>
<line x1="637.49" y1="200.96" x2="638.27" y2="200.99" stroke="#09a585" stroke-width="4.85" stroke-linecap="round"/>
<line x1="638.27" y1="200.99" x2="639.00" y2="201.00" stroke="#09a585" stroke-width="4.78" stroke-linecap="round"/>
<line x1="639.00" y1="201.00" x2="639.72" y2="201.00" stroke="#09a585" stroke-width="4.72" stroke-linecap="round"/>
<line x1="639.72" y1="201.00" x2="640.47" y2="200.98" stroke="#09a585" stroke-width="4.65" stroke-linecap="round"/>
<line x1="640.47" y1="200.98" x2="641.24" y2="200.95" stroke="#09a585" stroke-width="4.59" stroke-linecap="round"/>
<line x1="641.24" y1="200.95" x2="642.01" y2="200.92" stroke="#09a585" stroke-width="4.52" stroke-linecap="round"/>
<line x1="642.01" y1="200.92" x2="642.79" y2="200.88" stroke="#09a585" stroke-width="4.46" stroke-linecap="round"/>
<line x1="642.79" y1="200.88" x2="643.54" y2="200.83" stroke="#09a585" stroke-width="4.39" stroke-linecap="round"/>
<line x1="643.54" y1="200.83" x2="644.27" y2="200.78" stroke="#09a585" stroke-width="4.33" stroke-linecap="round"/>
<line x1="644.27" y1="200.78" x2="644.95" y2="200.74" stroke="#09a585" stroke-width="4.26" stroke-linecap="round"/>
<line x1="644.95" y1="200.74" x2="645.58" y2="200.69" stroke="#09a585" stroke-width="4.20" stroke-linecap="round"/>
<line x1="645.58" y1="200.69" x2="646.14" y2="200.65" stroke="#09a585" stroke-width="4.13" stroke-linecap="round"/>
<line x1="646.14" y1="200.65" x2="646.62" y2="200.62" stroke="#09a585" stroke-width="4.07" stroke-linecap="round"/>
<line x1="646.62" y1="200.62" x2="647.00" y2="200.60" stroke="#09a585" stroke-width="4.00" stroke-linecap="round"/>
<line x1="242.60" y1="710.90" x2="241.48" y2="713.22" stroke="#09a585" stroke-width="2.80" stroke-linecap="round"/>
<line x1="241.48" y1="713.22" x2="241.11" y2="715.69" stroke="#09a585" stroke-width="2.92" stroke-linecap="round"/>
<line x1="241.11" y1="715.69" x2="240.83" y2="718.18" stroke="#09a585" stroke-width="3.05" stroke-linecap="round"/>
<line x1="240.83" y1="718.18" x2="240.66" y2="720.67" stroke="#09a585" stroke-width="3.17" stroke-linecap="round"/>
<line x1="240.66" y1="720.67" x2="240.59" y2="723.17" stroke="#09a585" stroke-width="3.30" stroke-linecap="round"/>
<line x1="240.59" y1="723.17" x2="240.61" y2="725.67" stroke="#09a585" stroke-width="3.42" stroke-linecap="round"/>
<line x1="240.61" y1="725.67" x2="240.74" y2="728.17" stroke="#09a585" stroke-width="3.55" stroke-linecap="round"/>
<line x1="240.74" y1="728.17" x2="240.96" y2="730.66" stroke="#09a585" stroke-width="3.67" stroke-linecap="round"/>
<line x1="240.96" y1="730.66" x2="241.28" y2="733.14" stroke="#09a585" stroke-width="3.80" stroke-linecap="round"/>
<line x1="241.28" y1="733.14" x2="241.70" y2="735.61" stroke="#09a585" stroke-width="3.92" stroke-linecap="round"/>
<line x1="241.70" y1="735.61" x2="242.22" y2="738.06" stroke="#09a585" stroke-width="4.05" stroke-linecap="round"/>
<line x1="242.22" y1="738.06" x2="242.83" y2="740.48" stroke="#09a585" stroke-width="4.17" stroke-linecap="round"/>
<line x1="242.83" y1="740.48" x2="243.54" y2="742.88" stroke="#09a585" stroke-width="4.29" stroke-linecap="round"/>
<line x1="243.54" y1="742.88" x2="244.35" y2="745.25" stroke="#09a585" stroke-width="4.42" stroke-linecap="round"/>
<line x1="244.35" y1="745.25" x2="245.25" y2="747.58" stroke="#09a585" stroke-width="4.49" stroke-linecap="round"/>
<line x1="245.25" y1="747.58" x2="246.24" y2="749.88" stroke="#09a585" stroke-width="4.47" stroke-linecap="round"/>
<line x1="246.24" y1="749.88" x2="247.32" y2="752.13" stroke="#09a585" stroke-width="4.45" stroke-linecap="round"/>
<line x1="247.32" y1="752.13" x2="248.48" y2="754.34" stroke="#09a585" stroke-width="4.42" stroke-linecap="round"/>
<line x1="248.48" y1="754.34" x2="249.74" y2="756.51" stroke="#09a585" stroke-width="4.40" stroke-linecap="round"/>
<line x1="249.74" y1="756.51" x2="251.08" y2="758.62" stroke="#09a585" stroke-width="4.38" stroke-linecap="round"/>
<line x1="251.08" y1="758.62" x2="252.50" y2="760.68" stroke="#09a585" stroke-width="4.36" stroke-linecap="round"/>
<line x1="252.50" y1="760.68" x2="254.01" y2="762.67" stroke="#09a585" stroke-width="4.33" stroke-linecap="round"/>
<line x1="254.01" y1="762.67" x2="255.59" y2="764.61" stroke="#09a585" stroke-width="4.31" stroke-linecap="round"/>
<line x1="255.59" y1="764.61" x2="257.25" y2="766.48" stroke="#09a585" stroke-width="4.29" stroke-linecap="round"/>
<line x1="257.25" y1="766.48" x2="258.98" y2="768.29" stroke="#09a585" stroke-width="4.26" stroke-linecap="round"/>
<line x1="258.98" y1="768.29" x2="260.78" y2="770.03" stroke="#09a585" stroke-width="4.24" stroke-linecap="round"/>
<line x1="260.78" y1="770.03" x2="262.64" y2="771.69" stroke="#09a585" stroke-width="4.22" stroke-linecap="round"/>
<line x1="262.64" y1="771.69" x2="264.58" y2="773.28" stroke="#09a585" stroke-width="4.20" stroke-linecap="round"/>
<line x1="264.58" y1="773.28" x2="266.57" y2="774.79" stroke="#09a585" stroke-width="4.17" stroke-linecap="round"/>
<line x1="266.57" y1="774.79" x2="268.62" y2="776.22" stroke="#09a585" stroke-width="4.15" stroke-linecap="round"/>
<line x1="268.62" y1="776.22" x2="270.73" y2="777.56" stroke="#09a585" stroke-width="4.13" stroke-linecap="round"/>
<line x1="270.73" y1="777.56" x2="272.89" y2="778.83" stroke="#09a585" stroke-width="4.10" stroke-linecap="round"/>
<line x1="272.89" y1="778.83" x2="275.10" y2="780.00" stroke="#09a585" stroke-width="4.08" stroke-linecap="round"/>
<line x1="275.10" y1="780.00" x2="277.35" y2="781.09" stroke="#09a585" stroke-width="4.05" stroke-linecap="round"/>
<line x1="277.35" y1="781.09" x2="279.64" y2="782.08" stroke="#09a585" stroke-width="4.03" stroke-linecap="round"/>
<line x1="279.64" y1="782.08" x2="281.97" y2="782.99" stroke="#09a585" stroke-width="4.00" stroke-linecap="round"/>
<line x1="281.97" y1="782.99" x2="284.34" y2="783.80" stroke="#09a585" stroke-width="3.98" stroke-linecap="round"/>
<line x1="284.34" y1="783.80" x2="286.74" y2="784.52" stroke="#09a585" stroke-width="3.95" stroke-linecap="round"/>
<line x1="286.74" y1="784.52" x2="289.16" y2="785.14" stroke="#09a585" stroke-width="3.93" stroke-linecap="round"/>
<line x1="289.16" y1="785.14" x2="291.50" y2="786.20" stroke="#09a585" stroke-width="3.90" stroke-linecap="round"/>
<line x1="291.50" y1="786.20" x2="291.33" y2="785.70" stroke="#09a585" stroke-width="5.50" stroke-linecap="round"/>
<line x1="291.33" y1="785.70" x2="291.11" y2="785.06" stroke="#09a585" stroke-width="5.39" stroke-linecap="round"/>
<line x1="291.11" y1="785.06" x2="290.85" y2="784.31" stroke="#09a585" stroke-width="5.28" stroke-linecap="round"/>
<line x1="290.85" y1="784.31" x2="290.56" y2="783.47" stroke="#09a585" stroke-width="5.17" stroke-linecap="round"/>
<line x1="290.56" y1="783.47" x2="290.24" y2="782.55" stroke="#09a585" stroke-width="5.07" stroke-linecap="round"/>
<line x1="290.24" y1="782.55" x2="289.91" y2="781.59" stroke="#09a585" stroke-width="4.96" stroke-linecap="round"/>
<line x1="289.91" y1="781.59" x2="289.57" y2="780.60" stroke="#09a585" stroke-width="4.85" stroke-linecap="round"/>
<line x1="289.57" y1="780.60" x2="289.23" y2="779.60" stroke="#09a585" stroke-width="4.74" stroke-linecap="round"/>
<line x1="289.23" y1="779.60" x2="288.89" y2="778.62" stroke="#09a585" stroke-width="4.63" stroke-linecap="round"/>
<line x1="288.89" y1="778.62" x2="288.57" y2="777.68" stroke="#09a585" stroke-width="4.52" stroke-linecap="round"/>
<line x1="288.57" y1="777.68" x2="288.27" y2="776.80" stroke="#09a585" stroke-width="4.41" stroke-linecap="round"/>
<line x1="288.27" y1="776.80" x2="288.00" y2="776.00" stroke="#09a585" stroke-width="4.30" stroke-linecap="round"/>
<line x1="288.00" y1="776.00" x2="287.74" y2="775.24" stroke="#09a585" stroke-width="4.20" stroke-linecap="round"/>
<line x1="287.74" y1="775.24" x2="287.48" y2="774.47" stroke="#09a585" stroke-width="4.09" stroke-linecap="round"/>
<line x1="287.48" y1="774.47" x2="287.23" y2="773.70" stroke="#09a585" stroke-width="3.98" stroke-linecap="round"/>
<line x1="287.23" y1="773.70" x2="286.97" y2="772.93" stroke="#09a585" stroke-width="3.87" stroke-linecap="round"/>
<line x1="286.97" y1="772.93" x2="286.72" y2="772.18" stroke="#09a585" stroke-width="3.76" stroke-linecap="round"/>
<line x1="286.72" y1="772.18" x2="286.48" y2="771.46" stroke="#09a585" stroke-width="3.65" stroke-linecap="round"/>
<line x1="286.48" y1="771.46" x2="286.25" y2="770.78" stroke="#09a585" stroke-width="3.54" stroke-linecap="round"/>
<line x1="286.25" y1="770.78" x2="286.04" y2="770.13" stroke="#09a585" stroke-width="3.43" stroke-linecap="round"/>
<line x1="286.04" y1="770.13" x2="285.85" y2="769.55" stroke="#09a585" stroke-width="3.33" stroke-linecap="round"/>
<line x1="285.85" y1="769.55" x2="285.67" y2="769.02" stroke="#09a585" stroke-width="3.22" stroke-linecap="round"/>
<line x1="285.67" y1="769.02" x2="285.52" y2="768.57" stroke="#09a585" stroke-width="3.11" stroke-linecap="round"/>
<line x1="285.52" y1="768.57" x2="285.40" y2="768.20" stroke="#09a585" stroke-width="3.00" stroke-linecap="round"/>
<line x1="291.50" y1="786.20" x2="291.14" y2="786.29" stroke="#09a585" stroke-width="5.50" stroke-linecap="round"/>
<line x1="291.14" y1="786.29" x2="290.67" y2="786.41" stroke="#09a585" stroke-width="5.43" stroke-linecap="round"/>
<line x1="290.67" y1="786.41" x2="290.13" y2="786.55" stroke="#09a585" stroke-width="5.37" stroke-linecap="round"/>
<line x1="290.13" y1="786.55" x2="289.53" y2="786.70" stroke="#09a585" stroke-width="5.30" stroke-linecap="round"/>
<line x1="289.53" y1="786.70" x2="288.87" y2="786.87" stroke="#09a585" stroke-width="5.24" stroke-linecap="round"/>
<line x1="288.87" y1="786.87" x2="288.17" y2="787.05" stroke="#09a585" stroke-width="5.17" stroke-linecap="round"/>
<line x1="288.17" y1="787.05" x2="287.45" y2="787.23" stroke="#09a585" stroke-width="5.11" stroke-linecap="round"/>
<line x1="287.45" y1="787.23" x2="286.72" y2="787.41" stroke="#09a585" stroke-width="5.04" stroke-linecap="round"/>
<line x1="286.72" y1="787.41" x2="285.99" y2="787.58" stroke="#09a585" stroke-width="4.98" stroke-linecap="round"/>
<line x1="285.99" y1="787.58" x2="285.29" y2="787.74" stroke="#09a585" stroke-width="4.91" stroke-linecap="round"/>
<line x1="285.29" y1="787.74" x2="284.62" y2="787.88" stroke="#09a585" stroke-width="4.85" stroke-linecap="round"/>
<line x1="284.62" y1="787.88" x2="284.00" y2="788.00" stroke="#09a585" stroke-width="4.78" stroke-linecap="round"/>
<line x1="284.00" y1="788.00" x2="283.39" y2="788.10" stroke="#09a585" stroke-width="4.72" stroke-linecap="round"/>
<line x1="283.39" y1="788.10" x2="282.76" y2="788.20" stroke="#09a585" stroke-width="4.65" stroke-linecap="round"/>
<line x1="282.76" y1="788.20" x2="282.11" y2="788.29" stroke="#09a585" stroke-width="4.59" stroke-linecap="round"/>
<line x1="282.11" y1="788.29" x2="281.46" y2="788.37" stroke="#09a585" stroke-width="4.52" stroke-linecap="round"/>
<line x1="281.46" y1="788.37" x2="280.81" y2="788.44" stroke="#09a585" stroke-width="4.46" stroke-linecap="round"/>
<line x1="280.81" y1="788.44" x2="280.18" y2="788.51" stroke="#09a585" stroke-width="4.39" stroke-linecap="round"/>
<line x1="280.18" y1="788.51" x2="279.58" y2="788.57" stroke="#09a585" stroke-width="4.33" stroke-linecap="round"/>
<line x1="279.58" y1="788.57" x2="279.01" y2="788.63" stroke="#09a585" stroke-width="4.26" stroke-linecap="round"/>
<line x1="279.01" y1="788.63" x2="278.49" y2="788.68" stroke="#09a585" stroke-width="4.20" stroke-linecap="round"/>
<line x1="278.49" y1="788.68" x2="278.02" y2="788.72" stroke="#09a585" stroke-width="4.13" stroke-linecap="round"/>
<line x1="278.02" y1="788.72" x2="277.62" y2="788.76" stroke="#09a585" stroke-width="4.07" stroke-linecap="round"/>
<line x1="277.62" y1="788.76" x2="277.30" y2="788.80" stroke="#09a585" stroke-width="4.00" stroke-linecap="round"/>
<line x1="924.40" y1="837.40" x2="926.75" y2="836.35" stroke="#09a585" stroke-width="2.80" stroke-linecap="round"/>
<line x1="926.75" y1="836.35" x2="928.73" y2="834.79" stroke="#09a585" stroke-width="2.92" stroke-linecap="round"/>
<line x1="928.73" y1="834.79" x2="930.66" y2="833.15" stroke="#09a585" stroke-width="3.05" stroke-linecap="round"/>
<line x1="930.66" y1="833.15" x2="932.51" y2="831.44" stroke="#09a585" stroke-width="3.17" stroke-linecap="round"/>
<line x1="932.51" y1="831.44" x2="934.30" y2="829.66" stroke="#09a585" stroke-width="3.30" stroke-linecap="round"/>
<line x1="934.30" y1="829.66" x2="936.02" y2="827.80" stroke="#09a585" stroke-width="3.42" stroke-linecap="round"/>
<line x1="936.02" y1="827.80" x2="937.66" y2="825.88" stroke="#09a585" stroke-width="3.55" stroke-linecap="round"/>
<line x1="937.66" y1="825.88" x2="939.22" y2="823.90" stroke="#09a585" stroke-width="3.67" stroke-linecap="round"/>
<line x1="939.22" y1="823.90" x2="940.71" y2="821.86" stroke="#09a585" stroke-width="3.80" stroke-linecap="round"/>
<line x1="940.71" y1="821.86" x2="942.11" y2="819.76" stroke="#09a585" stroke-width="3.92" stroke-linecap="round"/>
<line x1="942.11" y1="819.76" x2="943.44" y2="817.61" stroke="#09a585" stroke-width="4.05" stroke-linecap="round"/>
<line x1="943.44" y1="817.61" x2="944.67" y2="815.41" stroke="#09a585" stroke-width="4.17" stroke-linecap="round"/>
<line x1="944.67" y1="815.41" x2="945.82" y2="813.16" stroke="#09a585" stroke-width="4.29" stroke-linecap="round"/>
<line x1="945.82" y1="813.16" x2="946.88" y2="810.86" stroke="#09a585" stroke-width="4.42" stroke-linecap="round"/>
<line x1="946.88" y1="810.86" x2="947.85" y2="808.53" stroke="#09a585" stroke-width="4.49" stroke-linecap="round"/>
<line x1="947.85" y1="808.53" x2="948.73" y2="806.16" stroke="#09a585" stroke-width="4.47" stroke-linecap="round"/>
<line x1="948.73" y1="806.16" x2="949.51" y2="803.76" stroke="#09a585" stroke-width="4.45" stroke-linecap="round"/>
<line x1="949.51" y1="803.76" x2="950.20" y2="801.33" stroke="#09a585" stroke-width="4.42" stroke-linecap="round"/>
<line x1="950.20" y1="801.33" x2="950.79" y2="798.87" stroke="#09a585" stroke-width="4.40" stroke-linecap="round"/>
<line x1="950.79" y1="798.87" x2="951.28" y2="796.40" stroke="#09a585" stroke-width="4.38" stroke-linecap="round"/>
<line x1="951.28" y1="796.40" x2="951.68" y2="793.90" stroke="#09a585" stroke-width="4.36" stroke-linecap="round"/>
<line x1="951.68" y1="793.90" x2="951.98" y2="791.40" stroke="#09a585" stroke-width="4.33" stroke-linecap="round"/>
<line x1="951.98" y1="791.40" x2="952.18" y2="788.88" stroke="#09a585" stroke-width="4.31" stroke-linecap="round"/>
<line x1="952.18" y1="788.88" x2="952.28" y2="786.35" stroke="#09a585" stroke-width="4.29" stroke-linecap="round"/>
<line x1="952.28" y1="786.35" x2="952.28" y2="783.83" stroke="#09a585" stroke-width="4.26" stroke-linecap="round"/>
<line x1="952.28" y1="783.83" x2="952.19" y2="781.30" stroke="#09a585" stroke-width="4.24" stroke-linecap="round"/>
<line x1="952.19" y1="781.30" x2="951.99" y2="778.79" stroke="#09a585" stroke-width="4.22" stroke-linecap="round"/>
<line x1="951.99" y1="778.79" x2="951.70" y2="776.28" stroke="#09a585" stroke-width="4.20" stroke-linecap="round"/>
<line x1="951.70" y1="776.28" x2="951.30" y2="773.78" stroke="#09a585" stroke-width="4.17" stroke-linecap="round"/>
<line x1="951.30" y1="773.78" x2="950.81" y2="771.30" stroke="#09a585" stroke-width="4.15" stroke-linecap="round"/>
<line x1="950.81" y1="771.30" x2="950.23" y2="768.85" stroke="#09a585" stroke-width="4.13" stroke-linecap="round"/>
<line x1="950.23" y1="768.85" x2="949.54" y2="766.42" stroke="#09a585" stroke-width="4.10" stroke-linecap="round"/>
<line x1="949.54" y1="766.42" x2="948.77" y2="764.01" stroke="#09a585" stroke-width="4.08" stroke-linecap="round"/>
<line x1="948.77" y1="764.01" x2="947.89" y2="761.64" stroke="#09a585" stroke-width="4.05" stroke-linecap="round"/>
<line x1="947.89" y1="761.64" x2="946.93" y2="759.31" stroke="#09a585" stroke-width="4.03" stroke-linecap="round"/>
<line x1="946.93" y1="759.31" x2="945.88" y2="757.01" stroke="#09a585" stroke-width="4.00" stroke-linecap="round"/>
<line x1="945.88" y1="757.01" x2="944.73" y2="754.76" stroke="#09a585" stroke-width="3.98" stroke-linecap="round"/>
<line x1="944.73" y1="754.76" x2="943.50" y2="752.56" stroke="#09a585" stroke-width="3.95" stroke-linecap="round"/>
<line x1="943.50" y1="752.56" x2="942.18" y2="750.40" stroke="#09a585" stroke-width="3.93" stroke-linecap="round"/>
<line x1="942.18" y1="750.40" x2="941.50" y2="747.80" stroke="#09a585" stroke-width="3.90" stroke-linecap="round"/>
<line x1="941.50" y1="747.80" x2="941.25" y2="748.30" stroke="#09a585" stroke-width="5.50" stroke-linecap="round"/>
<line x1="941.25" y1="748.30" x2="940.94" y2="748.93" stroke="#09a585" stroke-width="5.39" stroke-linecap="round"/>
<line x1="940.94" y1="748.93" x2="940.56" y2="749.67" stroke="#09a585" stroke-width="5.28" stroke-linecap="round"/>
<line x1="940.56" y1="749.67" x2="940.14" y2="750.51" stroke="#09a585" stroke-width="5.17" stroke-linecap="round"/>
<line x1="940.14" y1="750.51" x2="939.69" y2="751.41" stroke="#09a585" stroke-width="5.07" stroke-linecap="round"/>
<line x1="939.69" y1="751.41" x2="939.21" y2="752.37" stroke="#09a585" stroke-width="4.96" stroke-linecap="round"/>
<line x1="939.21" y1="752.37" x2="938.72" y2="753.35" stroke="#09a585" stroke-width="4.85" stroke-linecap="round"/>
<line x1="938.72" y1="753.35" x2="938.23" y2="754.35" stroke="#09a585" stroke-width="4.74" stroke-linecap="round"/>
<line x1="938.23" y1="754.35" x2="937.75" y2="755.33" stroke="#09a585" stroke-width="4.63" stroke-linecap="round"/>
<line x1="937.75" y1="755.33" x2="937.29" y2="756.28" stroke="#09a585" stroke-width="4.52" stroke-linecap="round"/>
<line x1="937.29" y1="756.28" x2="936.87" y2="757.18" stroke="#09a585" stroke-width="4.41" stroke-linecap="round"/>
<line x1="936.87" y1="757.18" x2="936.50" y2="758.00" stroke="#09a585" stroke-width="4.30" stroke-linecap="round"/>
<line x1="936.50" y1="758.00" x2="936.15" y2="758.79" stroke="#09a585" stroke-width="4.20" stroke-linecap="round"/>
<line x1="936.15" y1="758.79" x2="935.81" y2="759.61" stroke="#09a585" stroke-width="4.09" stroke-linecap="round"/>
<line x1="935.81" y1="759.61" x2="935.48" y2="760.44" stroke="#09a585" stroke-width="3.98" stroke-linecap="round"/>
<line x1="935.48" y1="760.44" x2="935.15" y2="761.27" stroke="#09a585" stroke-width="3.87" stroke-linecap="round"/>
<line x1="935.15" y1="761.27" x2="934.84" y2="762.09" stroke="#09a585" stroke-width="3.76" stroke-linecap="round"/>
<line x1="934.84" y1="762.09" x2="934.54" y2="762.89" stroke="#09a585" stroke-width="3.65" stroke-linecap="round"/>
<line x1="934.54" y1="762.89" x2="934.25" y2="763.65" stroke="#09a585" stroke-width="3.54" stroke-linecap="round"/>
<line x1="934.25" y1="763.65" x2="933.99" y2="764.36" stroke="#09a585" stroke-width="3.43" stroke-linecap="round"/>
<line x1="933.99" y1="764.36" x2="933.75" y2="765.01" stroke="#09a585" stroke-width="3.33" stroke-linecap="round"/>
<line x1="933.75" y1="765.01" x2="933.54" y2="765.59" stroke="#09a585" stroke-width="3.22" stroke-linecap="round"/>
<line x1="933.54" y1="765.59" x2="933.35" y2="766.09" stroke="#09a585" stroke-width="3.11" stroke-linecap="round"/>
<line x1="933.35" y1="766.09" x2="933.20" y2="766.50" stroke="#09a585" stroke-width="3.00" stroke-linecap="round"/>
<line x1="941.50" y1="747.80" x2="941.82" y2="748.00" stroke="#09a585" stroke-width="5.50" stroke-linecap="round"/>
<line x1="941.82" y1="748.00" x2="942.22" y2="748.25" stroke="#09a585" stroke-width="5.42" stroke-linecap="round"/>
<line x1="942.22" y1="748.25" x2="942.69" y2="748.53" stroke="#09a585" stroke-width="5.33" stroke-linecap="round"/>
<line x1="942.69" y1="748.53" x2="943.22" y2="748.85" stroke="#09a585" stroke-width="5.25" stroke-linecap="round"/>
<line x1="943.22" y1="748.85" x2="943.79" y2="749.20" stroke="#09a585" stroke-width="5.17" stroke-linecap="round"/>
<line x1="943.79" y1="749.20" x2="944.40" y2="749.57" stroke="#09a585" stroke-width="5.09" stroke-linecap="round"/>
<line x1="944.40" y1="749.57" x2="945.03" y2="749.97" stroke="#09a585" stroke-width="5.00" stroke-linecap="round"/>
<line x1="945.03" y1="749.97" x2="945.66" y2="750.37" stroke="#09a585" stroke-width="4.92" stroke-linecap="round"/>
<line x1="945.66" y1="750.37" x2="946.29" y2="750.78" stroke="#09a585" stroke-width="4.84" stroke-linecap="round"/>
<line x1="946.29" y1="750.78" x2="946.89" y2="751.19" stroke="#09a585" stroke-width="4.76" stroke-linecap="round"/>
<line x1="946.89" y1="751.19" x2="947.47" y2="751.60" stroke="#09a585" stroke-width="4.67" stroke-linecap="round"/>
<line x1="947.47" y1="751.60" x2="948.00" y2="752.00" stroke="#09a585" stroke-width="4.59" stroke-linecap="round"/>
<line x1="948.00" y1="752.00" x2="948.52" y2="752.41" stroke="#09a585" stroke-width="4.51" stroke-linecap="round"/>
<line x1="948.52" y1="752.41" x2="949.05" y2="752.87" stroke="#09a585" stroke-width="4.43" stroke-linecap="round"/>
<line x1="949.05" y1="752.87" x2="949.59" y2="753.35" stroke="#09a585" stroke-width="4.34" stroke-linecap="round"/>
<line x1="949.59" y1="753.35" x2="950.14" y2="753.85" stroke="#09a585" stroke-width="4.26" stroke-linecap="round"/>
<line x1="950.14" y1="753.85" x2="950.68" y2="754.36" stroke="#09a585" stroke-width="4.18" stroke-linecap="round"/>
<line x1="950.68" y1="754.36" x2="951.21" y2="754.86" stroke="#09a585" stroke-width="4.10" stroke-linecap="round"/>
<line x1="951.21" y1="754.86" x2="951.71" y2="755.35" stroke="#09a585" stroke-width="4.01" stroke-linecap="round"/>
<line x1="951.71" y1="755.35" x2="952.18" y2="755.81" stroke="#09a585" stroke-width="3.93" stroke-linecap="round"/>
<line x1="952.18" y1="755.81" x2="952.61" y2="756.24" stroke="#09a585" stroke-width="3.85" stroke-linecap="round"/>
<line x1="952.61" y1="756.24" x2="953.00" y2="756.62" stroke="#09a585" stroke-width="3.77" stroke-linecap="round"/>
<line x1="953.00" y1="756.62" x2="953.33" y2="756.95" stroke="#09a585" stroke-width="3.68" stroke-linecap="round"/>
<line x1="953.33" y1="756.95" x2="953.60" y2="757.20" stroke="#09a585" stroke-width="3.60" stroke-linecap="round"/>
</svg></body></html>
